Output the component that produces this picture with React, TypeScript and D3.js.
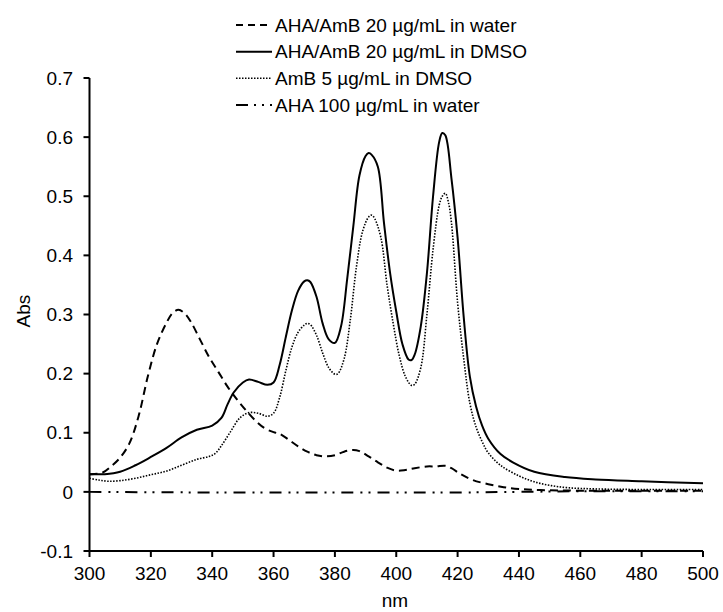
import React from "react";
import * as d3 from "d3";

// ---- data ----
const waterNm = [300,304,307,310,313,316,319,322,325,327,329,331,333,336,339,342,345,348,351,354,357,360,362,365,368,371,374,377,380,383,386,388,391,394,397,400,403,406,410,413,416,418,421,425,430,435,440,447,460,480,500];
const waterAbs = [0.030,0.032,0.043,0.058,0.082,0.128,0.195,0.250,0.285,0.302,0.308,0.302,0.288,0.258,0.228,0.203,0.178,0.157,0.138,0.121,0.108,0.101,0.098,0.088,0.077,0.068,0.062,0.060,0.062,0.068,0.071,0.069,0.060,0.050,0.041,0.036,0.037,0.040,0.043,0.043,0.044,0.040,0.030,0.020,0.013,0.008,0.005,0.003,0.002,0.002,0.002];

const dmsoNm = [300,305,310,315,320,325,330,335,340,343,345,347,350,352,355,358,360,362,364,366,368,370,371,372,374,376,378,380,382,384,386,388,390,391,392,394,396,398,400,402,404,405,406,408,410,412,414,415,416,418,420,422,424,426,428,430,434,438,445,455,465,480,500];
const dmsoAbs = [0.030,0.030,0.034,0.045,0.059,0.074,0.092,0.105,0.112,0.125,0.148,0.168,0.185,0.190,0.186,0.181,0.185,0.215,0.262,0.307,0.340,0.356,0.358,0.355,0.330,0.285,0.258,0.252,0.280,0.360,0.449,0.535,0.568,0.573,0.570,0.550,0.455,0.370,0.305,0.250,0.224,0.223,0.232,0.280,0.370,0.500,0.592,0.607,0.603,0.530,0.430,0.295,0.195,0.145,0.112,0.090,0.064,0.050,0.034,0.025,0.021,0.018,0.0145];

const ambNm = [300,303,306,310,315,320,325,330,335,339,341,343,346,349,352,355,358,360,362,364,366,368,370,371,372,374,376,378,380,381,383,385,387,389,391,392,393,395,397,399,401,403,405,406,408,410,412,414,415,416,417,418,420,422,424,426,428,430,434,440,445,450,456,465,480,500];
const ambAbs = [0.023,0.020,0.018,0.019,0.023,0.029,0.035,0.045,0.055,0.060,0.065,0.078,0.102,0.125,0.134,0.133,0.128,0.133,0.160,0.205,0.245,0.270,0.282,0.285,0.283,0.265,0.235,0.210,0.199,0.200,0.225,0.290,0.380,0.440,0.465,0.468,0.462,0.430,0.350,0.285,0.230,0.195,0.180,0.182,0.210,0.300,0.410,0.485,0.500,0.505,0.490,0.455,0.320,0.225,0.150,0.110,0.085,0.066,0.045,0.027,0.017,0.011,0.007,0.005,0.004,0.004];

const ahaNm = [300,340,380,420,440,460,480,500];
const ahaAbs = [0.000,-0.001,-0.001,-0.001,0.000,0.001,0.001,0.001];

const xTicks = [300,320,340,360,380,400,420,440,460,480,500];
const yTicks = [-0.1,0,0.1,0.2,0.3,0.4,0.5,0.6,0.7];
const yTickLabels = ["-0.1","0","0.1","0.2","0.3","0.4","0.5","0.6","0.7"];

const legendLabels = [
  "AHA/AmB 20 µg/mL in water",
  "AHA/AmB 20 µg/mL in DMSO",
  "AmB 5 µg/mL in DMSO",
  "AHA 100 µg/mL in water",
];

const FONT = "'Liberation Sans', Arial, sans-serif";

export default function App() {
  const W = 723, H = 612;
  const x = d3.scaleLinear().domain([300, 500]).range([89.5, 703]);
  const y = d3.scaleLinear().domain([-0.1, 0.7]).range([551, 78]);

  const mk = (nms: number[], vals: number[]) =>
    d3.line<number>()
      .x((_, i) => x(nms[i]))
      .y((v) => y(v))
      .curve(d3.curveCatmullRom.alpha(0.5))(vals) || "";

  const series = [
    { d: mk(waterNm, waterAbs), dash: "8,5", w: 2 },
    { d: mk(dmsoNm, dmsoAbs), dash: "", w: 2 },
    { d: mk(ambNm, ambAbs), dash: "1.5,1.5", w: 1.6 },
    { d: mk(ahaNm, ahaAbs), dash: "12,7,2,6,2,7", w: 2 },
  ];
  const legendDash = ["7,5", "", "1.5,1.5", "12,6,2,6,2,6"];
  const legendY = [25, 51.7, 78.3, 105];

  return (
    <svg width={W} height={H} style={{ display: "block", position: "absolute", left: 0, top: 0, background: "#fff" }} fontFamily={FONT}>
      <rect x={0} y={0} width={W} height={H} fill="#fff" />
      {series.map((s, i) => (
        <path key={i} d={s.d} fill="none" stroke="#000" strokeWidth={s.w} strokeDasharray={s.dash || undefined} />
      ))}
      <line x1={x(300)} x2={x(300)} y1={y(0.7)} y2={y(-0.1)} stroke="#000" strokeWidth={2} />
      <line x1={x(300)} x2={x(500)} y1={y(-0.1)} y2={y(-0.1)} stroke="#000" strokeWidth={2} />
      {yTicks.map((t, i) => (
        <g key={t}>
          <line x1={x(300) - 6} x2={x(300)} y1={y(t)} y2={y(t)} stroke="#000" strokeWidth={2} />
          <text x={73} y={y(t)} dy="0.35em" textAnchor="end" fontSize={19} fill="#000">
            {yTickLabels[i]}
          </text>
        </g>
      ))}
      {xTicks.map((t) => (
        <g key={t}>
          <line x1={x(t)} x2={x(t)} y1={y(-0.1)} y2={y(-0.1) + 6} stroke="#000" strokeWidth={2} />
          <text x={x(t)} y={580} textAnchor="middle" fontSize={19} fill="#000">{t}</text>
        </g>
      ))}
      <text x={395} y={607} textAnchor="middle" fontSize={19} fill="#000">nm</text>
      <text transform={`translate(30,311) rotate(-90)`} textAnchor="middle" fontSize={19} fill="#000">Abs</text>
      {legendLabels.map((l, i) => (
        <g key={l}>
          <line x1={236} x2={272} y1={legendY[i]} y2={legendY[i]} stroke="#000" strokeWidth={i === 2 ? 1.6 : 2} strokeDasharray={legendDash[i] || undefined} />
          <text x={275} y={legendY[i]} dy="0.35em" fontSize={19} fill="#000">{l}</text>
        </g>
      ))}
    </svg>
  );
}
